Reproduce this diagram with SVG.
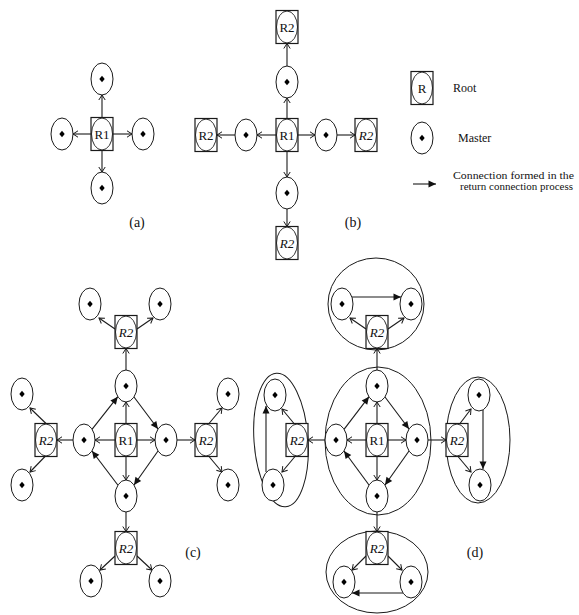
<svg xmlns="http://www.w3.org/2000/svg" width="579" height="615" viewBox="0 0 579 615">
<style>
.bg{fill:#fff}
.e{fill:none;stroke:#1a1a1a;stroke-width:1}
#connectors line{stroke:#1a1a1a;stroke-width:1.1;fill:none}
.o{marker-end:url(#ao)}
.f{marker-end:url(#af)}
.t{font-family:"Liberation Serif",serif;font-size:13px;text-anchor:middle;fill:#111}
.i{font-style:italic}
.lbl{font-family:"Liberation Serif",serif;font-size:14px;text-anchor:middle;fill:#111}
.lg{font-family:"Liberation Serif",serif;font-size:12px;fill:#111}
.lgs{font-family:"Liberation Serif",serif;font-size:10.5px;fill:#111}
</style>
<defs>
<marker id="ao" markerUnits="userSpaceOnUse" markerWidth="9" markerHeight="9" viewBox="-7 -4.5 8 9" refX="0" refY="0" orient="auto" overflow="visible">
<path d="M-5,-3.2L0,0L-5,3.2" fill="none" stroke="#1a1a1a" stroke-width="1"/>
</marker>
<marker id="af" markerUnits="userSpaceOnUse" markerWidth="10" markerHeight="10" viewBox="-8 -5 9 10" refX="0" refY="0" orient="auto" overflow="visible">
<path d="M-7.5,-3.5L0,0L-7.5,3.5Z" fill="#111"/>
</marker>
<g id="m"><ellipse rx="11" ry="16" fill="#fff" stroke="#1a1a1a" stroke-width="1"/><path d="M0,-3.3L2.7,0L0,3.3L-2.7,0Z" fill="#000"/></g>
<g id="r"><rect x="-11" y="-16.5" width="22" height="33" fill="#fff" stroke="#1a1a1a" stroke-width="1.2"/><ellipse rx="10.5" ry="16" fill="none" stroke="#1a1a1a" stroke-width="0.9"/></g>
</defs>
<rect class="bg" x="0" y="0" width="579" height="615"/>

<g id="clusters">
<ellipse class="e" cx="376" cy="304" rx="48" ry="46"/>
<ellipse class="e" cx="378" cy="441" rx="53" ry="74"/>
<ellipse class="e" cx="281" cy="440" rx="27" ry="67" transform="rotate(-4 281 440)"/>
<ellipse class="e" cx="478" cy="440" rx="32" ry="63"/>
<ellipse class="e" cx="377" cy="572" rx="51" ry="41"/>
</g>

<g id="connectors">
<line class="o" x1="102" y1="117.5" x2="102" y2="95"/>
<line class="o" x1="102" y1="150.5" x2="102" y2="172"/>
<line class="o" x1="91" y1="134" x2="73" y2="134"/>
<line class="o" x1="113" y1="134" x2="132" y2="134"/>
<line class="o" x1="287" y1="118.5" x2="287" y2="98"/>
<line class="o" x1="287" y1="66" x2="287" y2="43.5"/>
<line class="o" x1="287" y1="151.5" x2="287" y2="177"/>
<line class="o" x1="287" y1="209" x2="287" y2="226.5"/>
<line class="o" x1="276" y1="135" x2="257" y2="135"/>
<line class="o" x1="235" y1="135" x2="217" y2="135"/>
<line class="o" x1="298" y1="135" x2="315" y2="135"/>
<line class="o" x1="337" y1="135" x2="355" y2="135"/>
<line class="f" x1="413" y1="184" x2="436" y2="184"/>
<line class="o" x1="126" y1="423.5" x2="126" y2="402"/>
<line class="o" x1="115" y1="440" x2="95" y2="440"/>
<line class="o" x1="137" y1="440" x2="155" y2="440"/>
<line class="o" x1="126" y1="456.5" x2="126" y2="480"/>
<line class="o" x1="126" y1="370" x2="126" y2="348.5"/>
<line class="o" x1="73" y1="440" x2="57" y2="440"/>
<line class="o" x1="177" y1="440" x2="195" y2="440"/>
<line class="o" x1="126" y1="512" x2="126" y2="531.5"/>
<line class="o" x1="115" y1="329" x2="99" y2="318"/>
<line class="o" x1="137" y1="329" x2="153" y2="318"/>
<line class="o" x1="46" y1="423.5" x2="30" y2="408"/>
<line class="o" x1="45" y1="456.5" x2="30" y2="472"/>
<line class="o" x1="209" y1="423.5" x2="222" y2="408"/>
<line class="o" x1="209" y1="456.5" x2="222" y2="472"/>
<line class="o" x1="115" y1="556" x2="100" y2="570"/>
<line class="o" x1="137" y1="556" x2="152" y2="570"/>
<line class="f" x1="92" y1="429.3" x2="117.8" y2="396.7"/>
<line class="f" x1="134" y1="397" x2="158" y2="429"/>
<line class="f" x1="158" y1="451" x2="134" y2="485"/>
<line class="f" x1="117.8" y1="485" x2="92" y2="451"/>
<line class="o" x1="377" y1="423.5" x2="377" y2="402"/>
<line class="o" x1="366" y1="440" x2="347" y2="440"/>
<line class="o" x1="388" y1="440" x2="406" y2="440"/>
<line class="o" x1="377" y1="456.5" x2="377" y2="480"/>
<line class="o" x1="377" y1="370" x2="377" y2="348.5"/>
<line class="o" x1="325" y1="440" x2="308" y2="440"/>
<line class="o" x1="428" y1="440" x2="446" y2="440"/>
<line class="o" x1="377" y1="512" x2="377" y2="531.5"/>
<line class="o" x1="366" y1="329" x2="350" y2="318"/>
<line class="o" x1="388" y1="329" x2="404" y2="318"/>
<line class="o" x1="294" y1="423.5" x2="282" y2="409"/>
<line class="o" x1="295" y1="456.5" x2="282" y2="472"/>
<line class="o" x1="460" y1="423.5" x2="471" y2="409"/>
<line class="o" x1="458" y1="456.5" x2="471" y2="472"/>
<line class="o" x1="366" y1="556" x2="352" y2="570"/>
<line class="o" x1="388" y1="556" x2="402" y2="570"/>
<line class="f" x1="344" y1="429.3" x2="369" y2="396.7"/>
<line class="f" x1="385" y1="397" x2="409" y2="429"/>
<line class="f" x1="409" y1="451" x2="385" y2="485"/>
<line class="f" x1="369" y1="485" x2="344" y2="451"/>
<line class="f" x1="352" y1="297" x2="401" y2="297"/>
<line class="f" x1="266" y1="472" x2="266" y2="406"/>
<line class="f" x1="483" y1="410" x2="483" y2="469"/>
<line class="f" x1="403" y1="593" x2="352" y2="593"/>
</g>

<g id="a-R1"><use href="#r" x="102" y="134"/><text class="t" x="102" y="138.5">R1</text></g>
<g id="a-M-top"><use href="#m" x="102" y="79"/></g>
<g id="a-M-bottom"><use href="#m" x="102" y="188"/></g>
<g id="a-M-left"><use href="#m" x="62" y="134"/></g>
<g id="a-M-right"><use href="#m" x="143" y="134"/></g>
<text class="lbl" x="137" y="227">(a)</text>

<g id="b-R1"><use href="#r" x="287" y="135"/><text class="t" x="287" y="139.5">R1</text></g>
<g id="b-M-top"><use href="#m" x="287" y="82"/></g>
<g id="b-R2-top"><use href="#r" x="287" y="27"/><text class="t" x="287" y="31.5">R2</text></g>
<g id="b-M-bottom"><use href="#m" x="287" y="193"/></g>
<g id="b-R2-bottom"><use href="#r" x="287" y="243"/><text class="t i" x="287" y="247.5">R2</text></g>
<g id="b-M-left"><use href="#m" x="246" y="135"/></g>
<g id="b-R2-left"><use href="#r" x="206" y="135"/><text class="t" x="206" y="139.5">R2</text></g>
<g id="b-M-right"><use href="#m" x="326" y="135"/></g>
<g id="b-R2-right"><use href="#r" x="366" y="135"/><text class="t i" x="366" y="139.5">R2</text></g>
<text class="lbl" x="353" y="227">(b)</text>

<g id="legend-root"><use href="#r" x="422" y="88"/><text class="t" x="422" y="92.5">R</text><text class="lg" x="453" y="92">Root</text></g>
<g id="legend-master"><use href="#m" x="422" y="138"/><text class="lg" x="458" y="142">Master</text></g>
<g id="legend-arrow"><text class="lgs" x="453" y="179" textLength="121" lengthAdjust="spacingAndGlyphs">Connection formed  in the</text><text class="lgs" x="460" y="190" textLength="113" lengthAdjust="spacingAndGlyphs">return connection process</text></g>

<g id="c-R1"><use href="#r" x="126" y="440"/><text class="t" x="126" y="444.5">R1</text></g>
<g id="c-M-top"><use href="#m" x="126" y="386"/></g>
<g id="c-R2-top"><use href="#r" x="126" y="332"/><text class="t i" x="126" y="336.5">R2</text></g>
<g id="c-M-tl"><use href="#m" x="90" y="304"/></g>
<g id="c-M-tr"><use href="#m" x="160" y="304"/></g>
<g id="c-M-left"><use href="#m" x="84" y="440"/></g>
<g id="c-R2-left"><use href="#r" x="46" y="440"/><text class="t i" x="46" y="444.5">R2</text></g>
<g id="c-M-lt"><use href="#m" x="22" y="394"/></g>
<g id="c-M-lb"><use href="#m" x="22" y="485"/></g>
<g id="c-M-right"><use href="#m" x="166" y="440"/></g>
<g id="c-R2-right"><use href="#r" x="206" y="440"/><text class="t i" x="206" y="444.5">R2</text></g>
<g id="c-M-rt"><use href="#m" x="228" y="394"/></g>
<g id="c-M-rb"><use href="#m" x="228" y="485"/></g>
<g id="c-M-bottom"><use href="#m" x="126" y="496"/></g>
<g id="c-R2-bottom"><use href="#r" x="126" y="548"/><text class="t i" x="126" y="552.5">R2</text></g>
<g id="c-M-bl"><use href="#m" x="91" y="581"/></g>
<g id="c-M-br"><use href="#m" x="160" y="581"/></g>
<text class="lbl" x="193" y="557">(c)</text>

<g id="d-R1"><use href="#r" x="377" y="440"/><text class="t" x="377" y="444.5">R1</text></g>
<g id="d-M-top"><use href="#m" x="377" y="386"/></g>
<g id="d-R2-top"><use href="#r" x="377" y="332"/><text class="t i" x="377" y="336.5">R2</text></g>
<g id="d-M-tl"><use href="#m" x="342" y="304"/></g>
<g id="d-M-tr"><use href="#m" x="411" y="304"/></g>
<g id="d-M-left"><use href="#m" x="336" y="440"/></g>
<g id="d-R2-left"><use href="#r" x="297" y="440"/><text class="t i" x="297" y="444.5">R2</text></g>
<g id="d-M-lt"><use href="#m" x="275" y="395"/></g>
<g id="d-M-lb"><use href="#m" x="273" y="485"/></g>
<g id="d-M-right"><use href="#m" x="417" y="440"/></g>
<g id="d-R2-right"><use href="#r" x="457" y="440"/><text class="t i" x="457" y="444.5">R2</text></g>
<g id="d-M-rt"><use href="#m" x="479" y="395"/></g>
<g id="d-M-rb"><use href="#m" x="480" y="485"/></g>
<g id="d-M-bottom"><use href="#m" x="377" y="496"/></g>
<g id="d-R2-bottom"><use href="#r" x="377" y="548"/><text class="t i" x="377" y="552.5">R2</text></g>
<g id="d-M-bl"><use href="#m" x="344" y="582"/></g>
<g id="d-M-br"><use href="#m" x="411" y="582"/></g>
<text class="lbl" x="475" y="557">(d)</text>
</svg>
